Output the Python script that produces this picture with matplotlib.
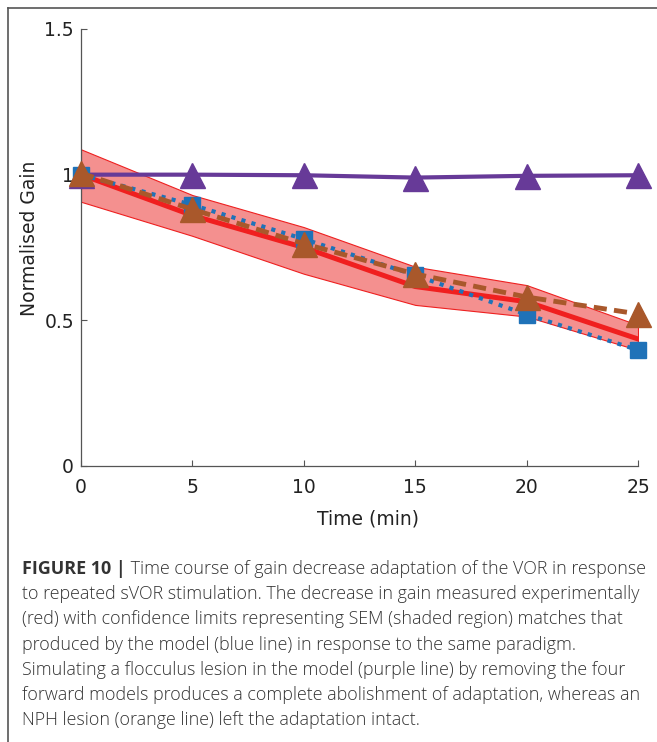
import matplotlib
matplotlib.use("Agg")
import matplotlib.pyplot as plt
from matplotlib.lines import Line2D

# time points (min) and gains
time = [0, 5, 10, 15, 20, 25]
exp_gain = [1.0, 0.86, 0.75, 0.616, 0.564, 0.436]
exp_upper = [1.087, 0.93, 0.82, 0.684, 0.621, 0.484]
exp_lower = [0.907, 0.79, 0.66, 0.553, 0.513, 0.398]
model_gain = [1.0, 0.896, 0.779, 0.655, 0.52, 0.398]
flocc_gain = [1.0, 1.0, 0.998, 0.99, 0.996, 0.998]
nph_gain = [1.005, 0.881, 0.763, 0.659, 0.58, 0.522]

yticks = [0, 0.5, 1, 1.5]
ytick_labels = ["0", "0.5", "1", "1.5"]
xticks = [0, 5, 10, 15, 20, 25]

caption_bold = "FIGURE 10 |"
caption_lines = [
    " Time course of gain decrease adaptation of the VOR in response",
    "to repeated sVOR stimulation. The decrease in gain measured experimentally",
    "(red) with confidence limits representing SEM (shaded region) matches that",
    "produced by the model (blue line) in response to the same paradigm.",
    "Simulating a flocculus lesion in the model (purple line) by removing the four",
    "forward models produces a complete abolishment of adaptation, whereas an",
    "NPH lesion (orange line) left the adaptation intact.",
]

plt.rcParams["font.family"] = "DejaVu Sans"

W, H = 657, 742
fig = plt.figure(figsize=(W / 100, H / 100), dpi=100)
ax = fig.add_axes([81 / W, 1 - 466 / H, (638 - 81) / W, (466 - 29) / H])

ax.fill_between(time, exp_lower, exp_upper, facecolor="#f4908f",
                edgecolor="#ee2020", linewidth=0.8, zorder=1)
ax.plot(time, exp_gain, color="#f01f1f", lw=3.6, zorder=2)
ax.plot(time, flocc_gain, color="#673a98", lw=3, marker="^", ms=18,
        zorder=3, clip_on=False)
ax.plot(time, model_gain, color="#1f72b8", lw=3, linestyle=(0, (1, 1.5)),
        marker="s", ms=11.5, zorder=4, clip_on=False)
ax.plot(time, nph_gain, color="#a9582b", lw=3.5, linestyle=(0, (2.7, 1.5)),
        marker="^", ms=18, zorder=5, clip_on=False)

ax.set_xlim(0, 25)
ax.set_ylim(0, 1.5)
ax.set_xticks(xticks)
ax.set_yticks(yticks)
ax.set_yticklabels(ytick_labels)
ax.spines["top"].set_visible(False)
ax.spines["right"].set_visible(False)
for s in ("left", "bottom"):
    ax.spines[s].set_color("#555555")
    ax.spines[s].set_linewidth(0.9)
ax.tick_params(direction="in", length=4, width=0.8, colors="#555555",
               labelcolor="#222222", labelsize=13.5)
ax.tick_params(axis="x", pad=9)
ax.tick_params(axis="y", pad=5)
ax.set_xlabel("Time (min)", fontsize=13.5, color="#222222")
ax.xaxis.set_label_coords(0.516, -0.1)
ax.set_ylabel("Normalised Gain", fontsize=13.5, color="#222222")
ax.yaxis.set_label_coords(-0.075, 0.52)

# outer frame (top and left)
fig.add_artist(Line2D([8 / W, 1], [1 - 8 / H, 1 - 8 / H], color="#555555",
                      lw=1.2, transform=fig.transFigure))
fig.add_artist(Line2D([8 / W, 8 / W], [0, 1 - 8 / H], color="#555555",
                      lw=1.2, transform=fig.transFigure))

# caption
cap_kw = dict(fontsize=12.9, color="#333333", family="Open Sans")
y0 = 1 - 574 / H
step = 25.2 / H
bold = fig.text(22 / W, y0, caption_bold, fontweight="bold", va="baseline",
                **cap_kw)
plt.annotate(caption_lines[0], xy=(1, 0), xycoords=bold, va="bottom",
             ha="left", annotation_clip=False, fontweight="light", **cap_kw)
for i, line in enumerate(caption_lines[1:], start=1):
    fig.text(22 / W, y0 - i * step, line, va="baseline", fontweight="light",
             **cap_kw)

fig.savefig("out.png", dpi=100)
